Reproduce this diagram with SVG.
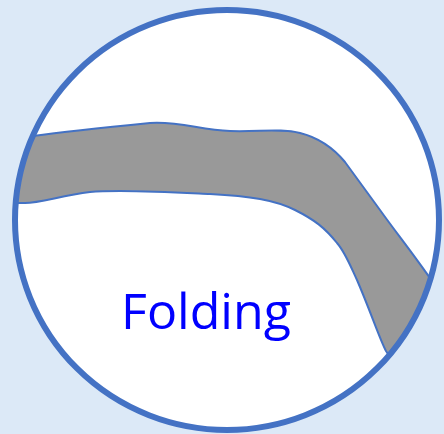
<svg xmlns="http://www.w3.org/2000/svg" width="444" height="434" viewBox="0 0 444 434">
  <defs>
    <clipPath id="circ">
      <ellipse cx="227" cy="220" rx="212" ry="210"/>
    </clipPath>
    <style>
      .ring{fill:none;stroke:#4472C4;stroke-width:6}
      .band{fill:#999999;stroke:#4472C4;stroke-width:2}
      .label{font-family:"Open Sans","Noto Sans",sans-serif;font-size:50px;fill:#0000FF}
    </style>
  </defs>
  <rect width="444" height="434" fill="#DCE9F7"/>
  <g id="lens">
    <ellipse cx="227" cy="220" rx="212" ry="210" fill="#FFFFFF"/>
    <g clip-path="url(#circ)">
      <path class="band" d="M 5,139 L 33,136 C 70,131 120,126 150,123 C 180,121 200,130 230,131 C 260,132 280,128 300,133 C 320,138 335,150 345,162 L 380,210 C 400,238 420,262 445,300 L 445,390 L 396,366 L 386,351 C 380,340 370,310 357,280 C 350,265 345,252 337,243 C 325,228 315,220 295,210 C 275,200 250,196 210,194 C 170,192 120,189 90,192 C 60,196 40,203 25,203 L 5,203 Z"/>
    </g>
    <ellipse class="ring" cx="227" cy="220" rx="212" ry="210"/>
  </g>
  <g id="label">
    <text class="label" x="121" y="329" textLength="170" lengthAdjust="spacingAndGlyphs">Folding</text>
  </g>
</svg>
